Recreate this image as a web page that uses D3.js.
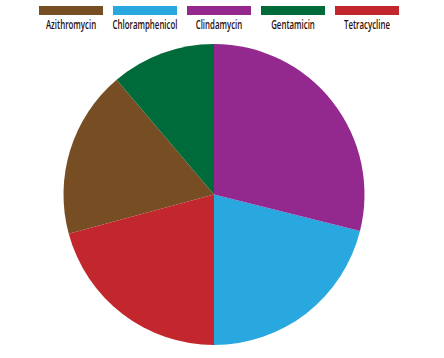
<!DOCTYPE html>
<html><head><meta charset="utf-8">
<script src="https://cdn.jsdelivr.net/npm/d3@7"></script>
<style>body{margin:0;background:#fff}</style>
</head><body>
<svg id="c" width="444" height="358"></svg>
<script>
const categories = ["Azithromycin","Chloramphenicol","Clindamycin","Gentamicin","Tetracycline"];
const values = [18.0, 21.1, 28.9, 11.2, 20.8];
const colors = ["#774e24","#29a8e0","#93298e","#006b3a","#c1272d"];

const svg = d3.select("#c");
const color = d3.scaleOrdinal().domain(categories).range(colors);
const data = categories.map((c,i)=>({cat:c, v:values[i]}));
const pie = d3.pie().value(d=>d.v).sort((a,b)=>b.v-a.v);
const arc = d3.arc().innerRadius(0).outerRadius(150.5);
const g = svg.append("g").attr("transform","translate(214,194.5)");
g.selectAll("path").data(pie(data)).join("path")
  .attr("d",arc).attr("fill",d=>color(d.data.cat));

const lx = d3.scalePoint().domain(categories).range([71,367]);
const lg = svg.append("g").selectAll("g").data(categories).join("g")
  .attr("transform",d=>`translate(${lx(d)},0)`);
lg.append("rect").attr("x",-32).attr("y",6).attr("width",64).attr("height",9).attr("fill",d=>color(d));
const texts = lg.append("g").attr("class","lab").append("text").attr("y",29).attr("text-anchor","middle")
  .attr("font-family","'Open Sans',sans-serif").attr("font-weight",600)
  .attr("font-size",13).attr("fill","#2b0d0d").text(d=>d);
// condense glyphs horizontally to mimic a condensed face
const ref = texts.filter(d=>d==="Chloramphenicol").node().getComputedTextLength();
const sx = 65/ref;
lg.select("g.lab").attr("transform",`scale(${sx},1)`);
</script>
</body></html>
